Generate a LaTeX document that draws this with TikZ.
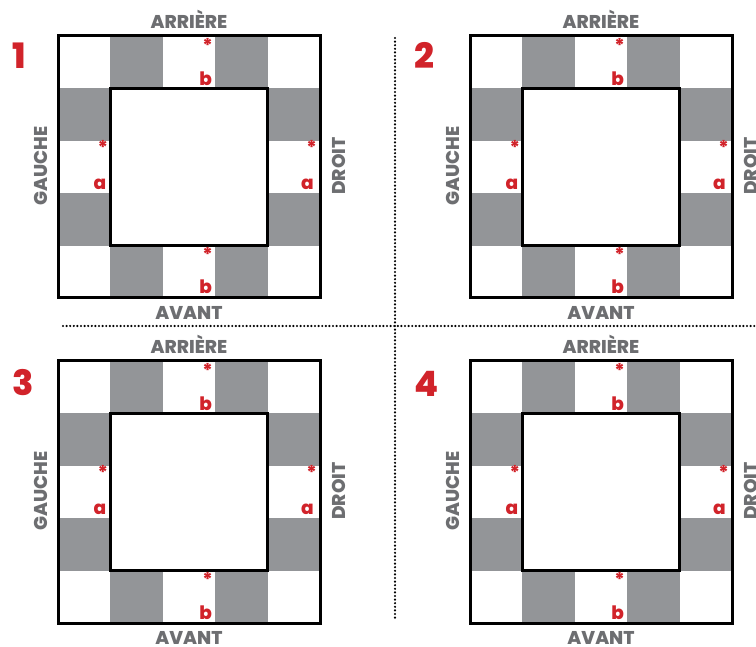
\documentclass[tikz,border=0pt]{standalone}
\usepackage{fontspec}
\setmainfont{Poppins}[BoldFont={* ExtraBold}]
\definecolor{cellgray}{HTML}{939598}
\definecolor{lblgray}{HTML}{6D6E71}
\definecolor{mred}{HTML}{D1232A}
\begin{document}
\begin{tikzpicture}[x=1pt,y=-1pt,
  side/.style={font=\bfseries\fontsize{18.5}{18.5}\selectfont, text=lblgray, inner sep=0pt},
  num/.style={font=\bfseries\fontsize{35}{35}\selectfont, text=mred, inner sep=0pt, anchor=west},
  starlbl/.style={font=\bfseries\fontsize{19}{19}\selectfont, text=mred, inner sep=0pt},
  letlbl/.style={font=\bfseries\fontsize{18.5}{18.5}\selectfont, text=mred, inner sep=0pt, anchor=base east},
  box/.style={line width=3pt},
  gcell/.style={fill=cellgray},
  sep/.style={line width=2.4pt, dash pattern=on 0pt off 3.6pt, line cap=round}
]
\useasboundingbox (0,0) rectangle (756,647);
\clip (0,0) rectangle (756,647);
\def\c{52.4}
\foreach \n/\ox/\oy/\nx/\ny in {1/58/36/12/56, 2/470/36/414/55, 3/58/361/12/383, 4/470/361/414/384} {
  \node[num] (num\n) at (\nx,\ny) {\n};
  \begin{scope}[shift={(\ox,\oy)}]
    % gray cells
    \fill[gcell] (\c,0) rectangle (2*\c,\c);
    \fill[gcell] (3*\c,0) rectangle (4*\c,\c);
    \fill[gcell] (\c,4*\c) rectangle (2*\c,5*\c);
    \fill[gcell] (3*\c,4*\c) rectangle (4*\c,5*\c);
    \fill[gcell] (0,\c) rectangle (\c,2*\c);
    \fill[gcell] (0,3*\c) rectangle (\c,4*\c);
    \fill[gcell] (4*\c,\c) rectangle (5*\c,2*\c);
    \fill[gcell] (4*\c,3*\c) rectangle (5*\c,4*\c);
    % outer and inner squares
    \draw[box] (0,0) rectangle (5*\c,5*\c);
    \draw[box, fill=white] (\c,\c) rectangle (4*\c,4*\c);
    % side labels
    \node[side] (arr\n) at (131,-17) {ARRIÈRE};
    \node[side] (ava\n) at (131,277) {AVANT};
    \node[side, rotate=90] (gau\n) at (-17,130) {GAUCHE};
    \node[side, rotate=90] (dro\n) at (281,130) {DROIT};
    % red marks
    \node[starlbl] (st\n) at (3*\c-7.5,9) {*};
    \node[letlbl] (lt\n) at (3*\c-3,\c-3) {b};
    \node[starlbl] (sb\n) at (3*\c-7.5,4*\c+9) {*};
    \node[letlbl] (lb\n) at (3*\c-3,5*\c-4) {b};
    \node[starlbl] (sl\n) at (\c-7.5,2*\c+7) {*};
    \node[letlbl] (ll\n) at (\c-4,3*\c-4) {a};
    \node[starlbl] (sr\n) at (5*\c-8.5,2*\c+7) {*};
    \node[letlbl] (lr\n) at (5*\c-6,3*\c-4) {a};
  \end{scope}
}
% separators
\coordinate (h1) at (63,326);
\coordinate (h2) at (756,326);
\coordinate (v1) at (395,38);
\coordinate (v2) at (395,621);
\draw[sep] (h1) -- (h2);
\draw[sep] (v1) -- (v2);
\end{tikzpicture}
\end{document}
